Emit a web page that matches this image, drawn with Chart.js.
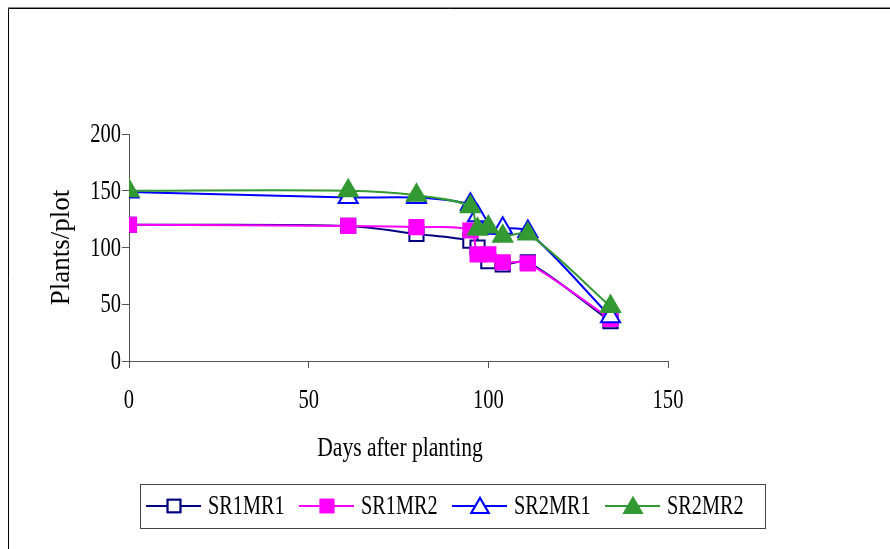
<!DOCTYPE html>
<html>
<head>
<meta charset="utf-8">
<script src="https://cdn.jsdelivr.net/npm/chart.js@4.4.0/dist/chart.umd.min.js"></script>
<style>
  body { margin: 0; background: #fff; }
  canvas { display: block; }
</style>
</head>
<body>
<canvas id="plantsChart" width="890" height="549"></canvas>
<script>
// days after planting
var days = [0, 61, 80, 95, 97, 100, 104, 111, 134];

// plants per plot, one array per treatment
var sr1mr1 = [120, 119, 112, 106, 100, 88, 85, 87, 35];
var sr1mr2 = [120, 119, 118, 115, 94, 94, 87, 86, 37];
var sr2mr1 = [149, 144, 144, 138, 128, 117, 117, 114, 39];
var sr2mr2 = [150, 150, 146, 136, 116, 118, 110, 112, 48];

var seriesNames = ['SR1MR1', 'SR1MR2', 'SR2MR1', 'SR2MR2'];
var xTicks = [0, 50, 100, 150];
var yTicks = [0, 50, 100, 150, 200];

function toPoints(vals) {
    return vals.map(function(v, i) { return { x: days[i], y: v }; });
}

var serif = "'Liberation Serif', 'Times New Roman', serif";
var textFont = '27px ' + serif;
var squeeze = 0.76; // the original text is narrow

// text drawn a bit condensed, like the original
function narrowText(ctx, text, x, y, align, sx) {
    ctx.save();
    ctx.translate(x, y);
    ctx.scale(sx, 1);
    ctx.font = textFont;
    ctx.fillStyle = '#000';
    ctx.textAlign = align;
    ctx.textBaseline = 'middle';
    ctx.fillText(text, 0, 0);
    ctx.restore();
}

// frame, tick labels, x title and boxed legend
var framePlugin = {
    id: 'frame',
    beforeDraw: function(chart) {
        var ctx = chart.ctx;
        ctx.save();
        ctx.fillStyle = '#fff';
        ctx.fillRect(0, 0, chart.width, chart.height);
        ctx.strokeStyle = '#888';
        ctx.lineWidth = 1;
        ctx.beginPath();
        ctx.moveTo(8, 7.5); ctx.lineTo(chart.width, 7.5);
        ctx.stroke();
        ctx.strokeStyle = '#000';
        ctx.beginPath();
        ctx.moveTo(8.5, chart.height); ctx.lineTo(8.5, 8.5); ctx.lineTo(chart.width, 8.5);
        ctx.stroke();
        ctx.restore();
    },
    afterDraw: function(chart) {
        var ctx = chart.ctx;
        var xs = chart.scales.x, ys = chart.scales.y;

        xs.ticks.forEach(function(t) {
            narrowText(ctx, String(t.value), xs.getPixelForValue(t.value), 401, 'center', squeeze);
        });
        ys.ticks.forEach(function(t) {
            narrowText(ctx, String(t.value), 121, ys.getPixelForValue(t.value) + 1, 'right', squeeze);
        });
        narrowText(ctx, 'Days after planting', 400, 449, 'center', 0.8);

        var bx = 140, by = 484, bw = 625, bh = 44;
        ctx.save();
        ctx.strokeStyle = '#444';
        ctx.lineWidth = 1;
        ctx.strokeRect(bx + 0.5, by + 0.5, bw, bh);
        var cy = by + bh / 2;
        chart.data.datasets.forEach(function(ds, i) {
            var x0 = bx + 6 + i * 153;
            ctx.strokeStyle = ds.borderColor;
            ctx.lineWidth = 2;
            ctx.beginPath();
            ctx.moveTo(x0, cy); ctx.lineTo(x0 + 55, cy);
            ctx.stroke();
            Chart.helpers.drawPoint(ctx, {
                pointStyle: ds.pointStyle,
                radius: ds.pointStyle === 'rect' ? 9 : 10,
                borderWidth: ds.pointBorderWidth
            }, x0 + 28, ds.pointStyle === 'triangle' ? cy + 2 : cy);
            ctx.fillStyle = ds.pointBackgroundColor;
            ctx.strokeStyle = ds.borderColor;
            ctx.lineWidth = ds.pointBorderWidth;
            ctx.fill();
            ctx.stroke();
            narrowText(ctx, ds.label, x0 + 62, cy + 1, 'left', 0.75);
        });
        ctx.restore();
    }
};

function makeSet(label, vals, color, style, fill, order) {
    return {
        label: label,
        data: toPoints(vals),
        borderColor: color,
        backgroundColor: fill,
        pointBackgroundColor: fill,
        pointBorderColor: color,
        pointStyle: style,
        pointRadius: style === 'rect' ? 10 : 11,
        pointBorderWidth: 2,
        borderWidth: 2,
        tension: 0.3,
        fill: false,
        order: order
    };
}

var ctx = document.getElementById('plantsChart').getContext('2d');
new Chart(ctx, {
    type: 'line',
    data: {
        datasets: [
            makeSet(seriesNames[0], sr1mr1, '#000080', 'rect', '#ffffff', 4),
            makeSet(seriesNames[1], sr1mr2, '#ff00ff', 'rect', '#ff00ff', 3),
            makeSet(seriesNames[2], sr2mr1, '#0000ff', 'triangle', '#ffffff', 2),
            makeSet(seriesNames[3], sr2mr2, '#339933', 'triangle', '#339933', 1)
        ]
    },
    options: {
        responsive: false,
        animation: false,
        layout: { padding: { left: 40, right: 222, top: 134, bottom: 88 } },
        plugins: {
            legend: { display: false },
            tooltip: { enabled: false }
        },
        scales: {
            x: {
                type: 'linear',
                min: 0,
                max: 150,
                afterBuildTicks: function(scale) {
                    scale.ticks = xTicks.map(function(v) { return { value: v }; });
                },
                afterFit: function(scale) { scale.height = 100; },
                grid: { drawOnChartArea: false, drawTicks: true, tickLength: 7, color: '#555' },
                border: { color: '#555', width: 1 },
                ticks: { color: 'rgba(0,0,0,0)', maxRotation: 0, font: { family: serif, size: 20 } },
                title: { display: false, text: 'Days after planting' }
            },
            y: {
                min: 0,
                max: 200,
                afterBuildTicks: function(scale) {
                    scale.ticks = yTicks.map(function(v) { return { value: v }; });
                },
                afterFit: function(scale) { scale.width = 89; },
                grid: { drawOnChartArea: false, drawTicks: true, tickLength: 7, color: '#555' },
                border: { color: '#555', width: 1 },
                ticks: { color: 'rgba(0,0,0,0)', font: { family: serif, size: 20 } },
                title: {
                    display: true,
                    text: 'Plants/plot',
                    color: '#000',
                    padding: { top: 6, bottom: 0 },
                    font: { family: serif, size: 27 }
                }
            }
        }
    },
    plugins: [framePlugin]
});
</script>
</body>
</html>
